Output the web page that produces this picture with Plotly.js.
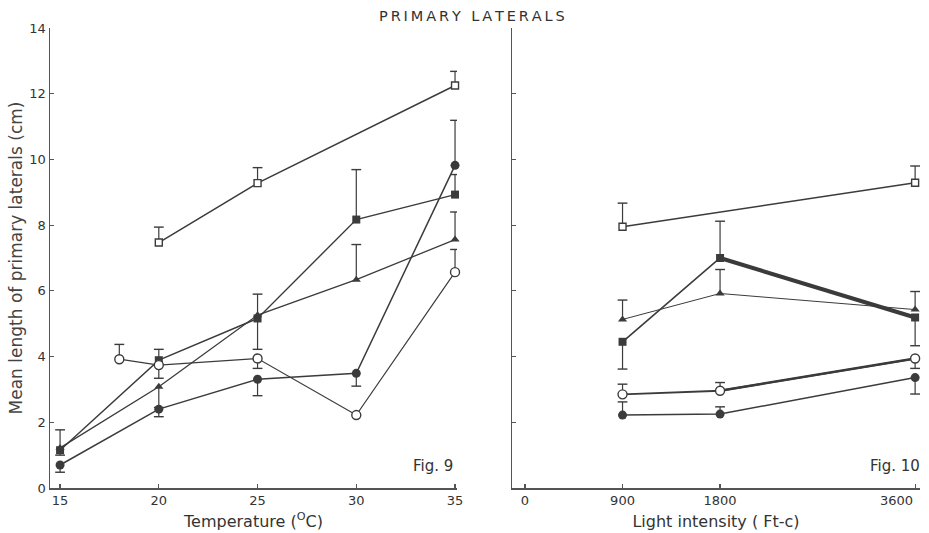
<!DOCTYPE html>
<html>
<head>
<meta charset="utf-8">
<script src="https://cdn.plot.ly/plotly-3.0.1.min.js"></script>
<style>
  html, body { margin: 0; padding: 0; background: #fff; }
  #chart { width: 929px; height: 533px; }
</style>
</head>
<body>
<div id="chart"></div>
<script>
// ---- Fig. 9: temperature response (°C) ----
var tempTicks = [15, 20, 25, 30, 35];

var t_openSq_x = [20, 25, 35];
var t_openSq_y = [7.47, 9.28, 12.25];
var t_openSq_up = [0.47, 0.47, 0.43];
var t_openSq_dn = [0, 0, 0];

var t_fillSq_x = [15, 20, 25, 30, 35];
var t_fillSq_y = [1.15, 3.89, 5.16, 8.17, 8.93];
var t_fillSq_up = [0.62, 0.33, 0.74, 1.52, 0.61];
var t_fillSq_dn = [0.15, 0, 0.94, 0, 0];

var t_fillCi_x = [15, 20, 25, 30, 35];
var t_fillCi_y = [0.70, 2.40, 3.31, 3.49, 9.82];
var t_fillCi_up = [0, 0, 0, 0, 1.37];
var t_fillCi_dn = [0.22, 0.23, 0.50, 0.39, 0];

var t_tri_x = [15, 20, 25, 30, 35];
var t_tri_y = [1.22, 3.08, 5.26, 6.34, 7.56];
var t_tri_up = [0, 0, 0, 1.07, 0.84];
var t_tri_dn = [0, 0.63, 0, 0, 0];

var t_openCi_x = [18, 20, 25, 30, 35];
var t_openCi_y = [3.92, 3.74, 3.94, 2.22, 6.57];
var t_openCi_up = [0.45, 0, 0, 0, 0.69];
var t_openCi_dn = [0, 0.40, 0.30, 0, 0];

// ---- Fig. 10: light intensity response (Ft-c) ----
var lightTicks = [0, 900, 1800, 3600];
var lightTickText = ['0', '900', '1800', '3600'];

var l_openSq_x = [900, 3600];
var l_openSq_y = [7.95, 9.29];
var l_openSq_up = [0.72, 0.51];
var l_openSq_dn = [0, 0];

var l_fillSq_x = [900, 1800, 3600];
var l_fillSq_y = [4.45, 7.00, 5.19];
var l_fillSq_up = [0, 1.12, 0];
var l_fillSq_dn = [0.83, 0, 0.86];

var l_tri_x = [900, 1800, 3600];
var l_tri_y = [5.13, 5.92, 5.43];
var l_tri_up = [0.59, 0.73, 0.55];
var l_tri_dn = [0, 0, 0];

var l_openCi_x = [900, 1800, 3600];
var l_openCi_y = [2.85, 2.96, 3.94];
var l_openCi_up = [0.31, 0.25, 0];
var l_openCi_dn = [0, 0, 0.30];

var l_fillCi_x = [900, 1800, 3600];
var l_fillCi_y = [2.22, 2.25, 3.36];
var l_fillCi_up = [0.40, 0.22, 0];
var l_fillCi_dn = [0, 0, 0.50];

var INK = '#3b3b3b';
var FONT = 'DejaVu Sans, sans-serif';

// spaced-out lettering for the heading
function spaced(s) { return s.split('').join('\u2009'); }

var SYM = {
  openSq: {symbol: 'square', size: 7, color: '#fff', line: {color: INK, width: 1.4}},
  fillSq: {symbol: 'square', size: 8, color: INK, line: {color: INK, width: 0}},
  fillCi: {symbol: 'circle', size: 9, color: INK, line: {color: INK, width: 0}},
  openCi: {symbol: 'circle', size: 9, color: '#fff', line: {color: INK, width: 1.4}},
  tri:    {symbol: 'triangle-up', size: 8, color: INK, line: {color: INK, width: 0}}
};

// one-sided error bars: stems as line segments, caps as short horizontal ticks
function errorBars(xs, ys, up, dn, xa, ya) {
  var sx = [], sy = [], cx = [], cy = [];
  for (var i = 0; i < xs.length; i++) {
    if (up[i] > 0) {
      sx.push(xs[i], xs[i], null); sy.push(ys[i], ys[i] + up[i], null);
      cx.push(xs[i]); cy.push(ys[i] + up[i]);
    }
    if (dn[i] > 0) {
      sx.push(xs[i], xs[i], null); sy.push(ys[i], ys[i] - dn[i], null);
      cx.push(xs[i]); cy.push(ys[i] - dn[i]);
    }
  }
  return [
    {x: sx, y: sy, xaxis: xa, yaxis: ya, mode: 'lines', connectgaps: false,
     line: {color: INK, width: 1.2}, hoverinfo: 'skip', showlegend: false},
    {x: cx, y: cy, xaxis: xa, yaxis: ya, mode: 'markers',
     marker: {symbol: 'line-ew', size: 7, line: {color: INK, width: 1.4}},
     hoverinfo: 'skip', showlegend: false}
  ];
}

function series(xs, ys, sym, width, xa, ya) {
  return {x: xs, y: ys, xaxis: xa, yaxis: ya, mode: 'lines+markers',
          line: {color: INK, width: width}, marker: SYM[sym],
          cliponaxis: false, showlegend: false};
}

// a heavier stroke on part of a series (drawn from the same arrays)
function segment(xs, ys, from, to, width, xa, ya) {
  return {x: xs.slice(from, to + 1), y: ys.slice(from, to + 1), xaxis: xa, yaxis: ya,
          mode: 'lines', line: {color: INK, width: width}, hoverinfo: 'skip', showlegend: false};
}

var traces = [];
[
  [t_openSq_x, t_openSq_y, t_openSq_up, t_openSq_dn],
  [t_fillSq_x, t_fillSq_y, t_fillSq_up, t_fillSq_dn],
  [t_fillCi_x, t_fillCi_y, t_fillCi_up, t_fillCi_dn],
  [t_tri_x, t_tri_y, t_tri_up, t_tri_dn],
  [t_openCi_x, t_openCi_y, t_openCi_up, t_openCi_dn]
].forEach(function (s) { traces = traces.concat(errorBars(s[0], s[1], s[2], s[3], 'x', 'y')); });
[
  [l_openSq_x, l_openSq_y, l_openSq_up, l_openSq_dn],
  [l_fillSq_x, l_fillSq_y, l_fillSq_up, l_fillSq_dn],
  [l_tri_x, l_tri_y, l_tri_up, l_tri_dn],
  [l_openCi_x, l_openCi_y, l_openCi_up, l_openCi_dn],
  [l_fillCi_x, l_fillCi_y, l_fillCi_up, l_fillCi_dn]
].forEach(function (s) { traces = traces.concat(errorBars(s[0], s[1], s[2], s[3], 'x2', 'y2')); });

traces.push(
  series(t_openSq_x, t_openSq_y, 'openSq', 1.5, 'x', 'y'),
  series(t_fillSq_x, t_fillSq_y, 'fillSq', 1.4, 'x', 'y'),
  series(t_tri_x, t_tri_y, 'tri', 1.3, 'x', 'y'),
  series(t_fillCi_x, t_fillCi_y, 'fillCi', 1.5, 'x', 'y'),
  series(t_openCi_x, t_openCi_y, 'openCi', 1.2, 'x', 'y'),

  segment(l_fillSq_x, l_fillSq_y, 1, 2, 4, 'x2', 'y2'),
  segment(l_openCi_x, l_openCi_y, 1, 2, 2.4, 'x2', 'y2'),
  series(l_openSq_x, l_openSq_y, 'openSq', 1.5, 'x2', 'y2'),
  series(l_fillSq_x, l_fillSq_y, 'fillSq', 1.6, 'x2', 'y2'),
  series(l_tri_x, l_tri_y, 'tri', 1.0, 'x2', 'y2'),
  series(l_openCi_x, l_openCi_y, 'openCi', 1.8, 'x2', 'y2'),
  series(l_fillCi_x, l_fillCi_y, 'fillCi', 1.5, 'x2', 'y2')
);

var axisBase = {
  showgrid: false, zeroline: false, showline: true, linecolor: '#555', linewidth: 1.5,
  ticks: 'inside', ticklen: 4, tickwidth: 1.2, tickcolor: '#555',
  tickfont: {family: FONT, size: 13, color: '#333'}
};

function ax(extra) { return Object.assign({}, axisBase, extra); }

// the last light-intensity label sits flush left of its tick, at the page edge
var lastLight = lightTicks.length - 1;
var lightAxisText = lightTickText.map(function (t, i) { return i === lastLight ? ' ' : t; });

var layout = {
  width: 929, height: 533,
  margin: {l: 0, r: 0, t: 0, b: 0},
  paper_bgcolor: '#fff', plot_bgcolor: '#fff',
  showlegend: false,
  xaxis: ax({domain: [50 / 929, 457 / 929], range: [14.49, 35.1], anchor: 'y',
             tickvals: tempTicks, ticktext: tempTicks.map(String),
             title: {text: 'Temperature (<sup>O</sup>C)', standoff: 8,
                     font: {family: FONT, size: 16, color: '#333'}}}),
  yaxis: ax({domain: [45 / 533, 505 / 533], range: [0, 14], anchor: 'x',
             tickvals: [0, 2, 4, 6, 8, 10, 12, 14],
             title: {text: 'Mean length of primary laterals (cm)', standoff: 2,
                     font: {family: FONT, size: 17, color: '#444'}}}),
  xaxis2: ax({domain: [512 / 929, 920 / 929], range: [-120, 3645], anchor: 'y2',
              tickvals: lightTicks, ticktext: lightAxisText,
              title: {text: 'Light intensity ( Ft-c)', standoff: 8,
                      font: {family: FONT, size: 16, color: '#333'}}}),
  yaxis2: ax({domain: [45 / 533, 505 / 533], range: [0, 14], anchor: 'x2',
              tickvals: [0, 2, 4, 6, 8, 10, 12, 14], showticklabels: false}),
  annotations: [
    {text: spaced('PRIMARY LATERALS'), xref: 'paper', yref: 'paper',
     x: 472 / 929, y: 1 - 16 / 533, yanchor: 'middle',
     showarrow: false, font: {family: FONT, size: 14.5, color: '#333'}},
    {text: 'Fig. 9', xref: 'paper', yref: 'paper', x: 455 / 929, y: 1 - 466 / 533,
     xanchor: 'right', yanchor: 'middle', showarrow: false,
     font: {family: FONT, size: 15, color: '#333'}},
    {text: 'Fig. 10', xref: 'paper', yref: 'paper', x: 922 / 929, y: 1 - 466 / 533,
     xanchor: 'right', yanchor: 'middle', showarrow: false,
     font: {family: FONT, size: 15, color: '#333'}},
    {text: lightTickText[lastLight], xref: 'x2', yref: 'paper',
     x: lightTicks[lastLight], y: 1 - 500 / 533,
     xanchor: 'right', yanchor: 'middle', showarrow: false,
     font: {family: FONT, size: 13, color: '#333'}}
  ]
};

Plotly.newPlot('chart', traces, layout, {staticPlot: true, displayModeBar: false});
</script>
</body>
</html>
